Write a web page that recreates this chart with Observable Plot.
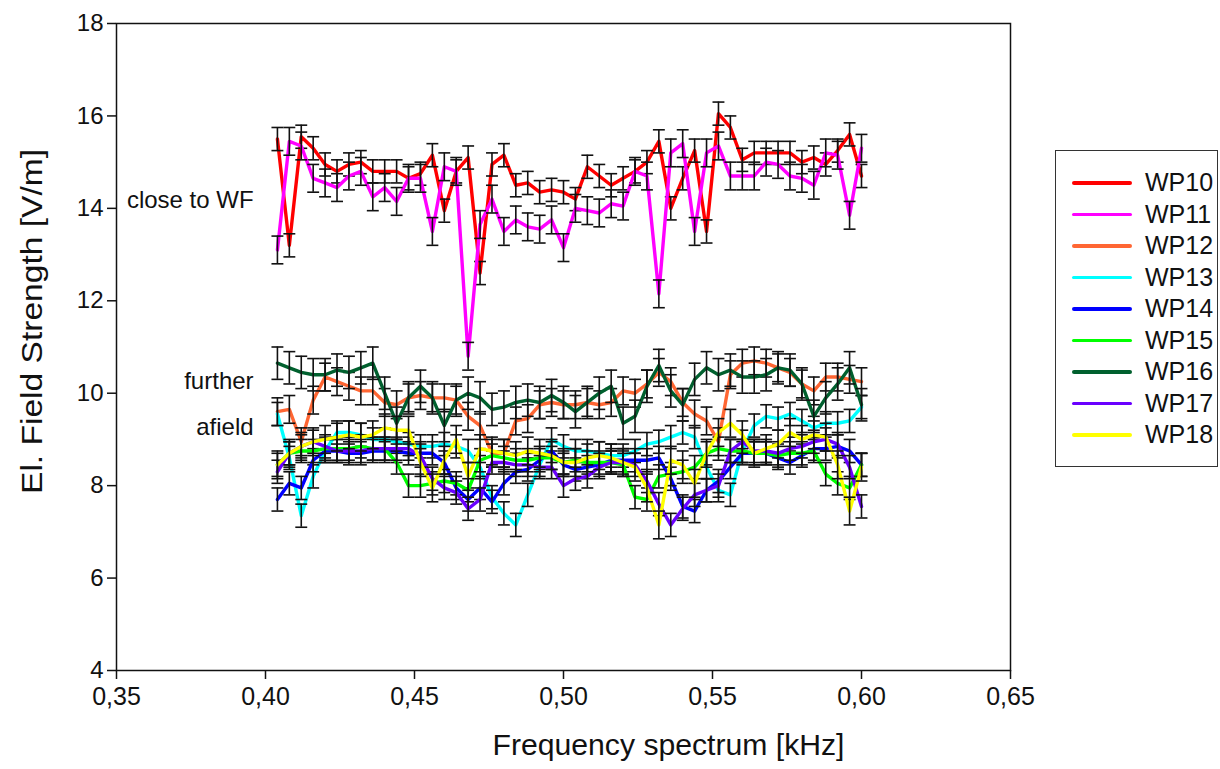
<!DOCTYPE html>
<html><head><meta charset="utf-8">
<script src="https://cdn.jsdelivr.net/npm/d3@7"></script>
<script src="https://cdn.jsdelivr.net/npm/@observablehq/plot@0.6"></script>
<style>
body{margin:0;background:#fff;overflow:hidden;font-family:"Liberation Sans",Arial,sans-serif}
#wrap{position:relative;width:1220px;height:769px}
#chart{position:absolute;left:0;top:0}
#legend{position:absolute;left:1055px;top:150px;width:163px;height:317px;border:1.5px solid #333;box-sizing:border-box;padding-top:16px}
.row{display:flex;align-items:center;height:31.5px}
.sw{width:60px;height:3.5px;margin-left:16px;margin-right:13px;border-radius:2px}
.lab{font-size:25px;color:#111}
</style></head>
<body><div id="wrap"><div id="chart"></div><div id="legend"></div></div>
<script>
const freq = [0.404,0.408,0.412,0.416,0.420,0.424,0.428,0.432,0.436,0.440,0.444,0.448,0.452,0.456,0.460,0.464,0.468,0.472,0.476,0.480,0.484,0.488,0.492,0.496,0.500,0.504,0.508,0.512,0.516,0.520,0.524,0.528,0.532,0.536,0.540,0.544,0.548,0.552,0.556,0.560,0.564,0.568,0.572,0.576,0.580,0.584,0.588,0.592,0.596,0.600];

const wp10 = [15.5,13.2,15.55,15.3,14.95,14.8,14.95,15.0,14.8,14.8,14.8,14.65,14.75,15.15,13.95,14.8,15.1,12.6,14.95,15.15,14.5,14.55,14.35,14.4,14.35,14.2,14.9,14.7,14.5,14.65,14.8,15.0,15.45,14.0,14.65,15.25,13.5,16.05,15.75,15.05,15.2,15.2,15.2,15.2,15.0,15.1,14.95,15.25,15.6,14.7];
const wp11 = [13.1,15.45,15.35,14.65,14.55,14.45,14.7,14.8,14.25,14.45,14.15,14.65,14.65,13.5,14.9,14.8,10.8,13.65,14.2,13.5,13.75,13.6,13.55,13.75,13.15,14.0,13.95,13.9,14.1,14.05,14.8,14.7,12.15,15.2,15.4,13.5,15.2,15.35,14.7,14.7,14.7,15.0,14.95,14.7,14.65,14.5,15.2,15.15,13.85,15.3];
const wp12 = [9.6,9.65,8.95,9.85,10.35,10.25,10.15,10.05,10.05,9.8,9.75,9.9,9.95,9.9,9.9,9.85,9.5,9.3,8.7,8.7,9.4,9.45,9.75,9.8,9.75,9.75,9.8,9.75,9.8,10.05,10.0,10.2,10.45,10.25,9.8,9.55,9.4,8.95,10.4,10.65,10.7,10.65,10.55,10.45,10.2,10.05,10.35,10.35,10.3,10.25];
const wp13 = [9.55,8.6,7.35,8.2,8.75,9.15,9.15,9.1,9.0,9.0,8.95,8.9,8.85,8.85,8.9,8.85,8.75,8.4,7.75,7.4,7.15,7.8,8.45,9.0,8.85,8.75,8.75,8.7,8.65,8.65,8.75,8.9,8.95,9.05,9.15,9.05,8.4,7.9,7.8,8.75,9.3,9.5,9.45,9.55,9.4,9.25,9.35,9.35,9.4,9.7];
const wp14 = [7.7,8.05,7.95,8.55,8.75,8.75,8.7,8.7,8.75,8.75,8.75,8.7,8.7,8.7,8.5,7.95,7.7,7.95,7.65,8.05,8.3,8.35,8.55,8.75,8.45,8.35,8.4,8.45,8.55,8.55,8.55,8.55,8.6,8.15,7.55,7.45,7.9,8.1,8.4,8.7,8.7,8.7,8.6,8.5,8.65,8.8,8.8,8.85,8.75,8.45];
const wp15 = [8.45,8.7,8.75,8.75,8.8,8.8,8.8,8.85,8.8,8.8,8.5,8.0,8.0,8.05,8.1,8.05,7.9,8.55,8.65,8.6,8.55,8.55,8.6,8.6,8.5,8.55,8.5,8.5,8.5,8.45,7.75,7.7,8.2,8.25,8.3,8.4,8.7,8.8,8.75,8.75,8.7,8.7,8.65,8.7,8.7,8.75,8.25,8.05,7.95,8.45];
const wp16 = [10.65,10.55,10.45,10.4,10.4,10.5,10.45,10.55,10.65,10.0,9.35,9.9,10.15,9.9,9.3,9.85,10.0,9.9,9.65,9.7,9.8,9.85,9.8,9.95,9.8,9.6,9.8,10.0,10.15,9.35,9.5,10.15,10.6,10.05,9.75,10.3,10.55,10.4,10.5,10.35,10.35,10.4,10.55,10.5,10.2,9.5,9.9,10.2,10.55,9.75];
const wp17 = [8.3,8.7,8.85,8.95,8.85,8.75,8.75,8.75,8.8,8.8,8.8,8.8,8.65,8.15,7.95,7.85,7.5,7.7,8.5,8.5,8.45,8.45,8.4,8.4,8.0,8.15,8.2,8.4,8.5,8.5,8.45,8.1,7.6,7.15,7.5,7.8,7.9,8.0,8.75,8.95,8.75,8.75,8.7,8.8,8.85,8.95,9.0,8.9,8.4,7.55];
const wp18 = [8.45,8.7,8.85,8.95,9.0,9.05,9.1,9.05,9.1,9.25,9.2,9.2,8.5,7.95,8.55,9.0,8.2,8.8,8.75,8.7,8.65,8.75,8.7,8.65,8.5,8.5,8.6,8.65,8.6,8.5,8.4,7.95,7.15,8.55,8.45,8.05,8.7,9.15,9.35,9.1,8.7,8.8,8.9,9.15,9.0,9.1,9.05,8.45,7.45,8.4];

const seriesNames = ["WP10","WP11","WP12","WP13","WP14","WP15","WP16","WP17","WP18"];
const seriesValues = [wp10,wp11,wp12,wp13,wp14,wp15,wp16,wp17,wp18];
const seriesColors = ["#ff0000","#ff00ff","#ff6633","#00ffff","#0000ff","#00ff00","#00602e","#6a00ff","#ffff00"];
const seriesErrors = [0.25,0.3,0.3,0.25,0.25,0.25,0.35,0.25,0.3];

const xTicks = [0.35,0.40,0.45,0.50,0.55,0.60,0.65];
const yTicks = [4,6,8,10,12,14,16,18];
const noteLabels = ["close to WF","further","afield"];
const noteX = [0.396,0.396,0.396];
const noteY = [14.17,10.25,9.26];

const xTitle = "Frequency spectrum [kHz]";
const yTitle = "El. Field Strength [V/m]";

const notes = noteLabels.map((t,i)=>({t, x: noteX[i], y: noteY[i]}));
const cap = 0.002;

const seriesMarks = seriesNames.flatMap((name, s) => {
  const rows = freq.map((f,i)=>({x:f, y:seriesValues[s][i], e:seriesErrors[s]}));
  return [
    Plot.line(rows, {x:"x", y:"y", stroke: seriesColors[s], strokeWidth: 3.4}),
    Plot.ruleX(rows, {x:"x", y1: d=>d.y-d.e, y2: d=>d.y+d.e, stroke:"#111", strokeWidth:1.6}),
    Plot.link(rows, {x1: d=>d.x-cap, x2: d=>d.x+cap, y1: d=>d.y+d.e, y2: d=>d.y+d.e, stroke:"#111", strokeWidth:1.6}),
    Plot.link(rows, {x1: d=>d.x-cap, x2: d=>d.x+cap, y1: d=>d.y-d.e, y2: d=>d.y-d.e, stroke:"#111", strokeWidth:1.6})
  ];
});

const chart = Plot.plot({
  width: 1040, height: 769,
  marginLeft: 116, marginRight: 30, marginTop: 23, marginBottom: 99,
  style: {fontFamily: '"Liberation Sans", Arial, sans-serif', color: "#111", background: "#fff"},
  x: {domain: [0.35, 0.65]},
  y: {domain: [4, 18]},
  marks: [
    Plot.axisX(xTicks, {tickSize: 9, tickPadding: 8, fontSize: 25, label: null, tickFormat: d => d.toFixed(2).replace(".", ","), strokeWidth: 1.5}),
    Plot.axisY(yTicks, {tickSize: 9, tickPadding: 4, fontSize: 24, label: null, strokeWidth: 1.5}),
    ...seriesMarks,
    Plot.frame({stroke: "#111", strokeWidth: 1.5}),
    Plot.text(notes, {x:"x", y:"y", text:"t", textAnchor:"end", fontSize: 24, fill:"#111"}),
    Plot.text([xTitle], {frameAnchor:"bottom", text: d=>d, dx: 105, dy: 84, fontSize: 29, fill:"#111"}),
    Plot.text([yTitle], {frameAnchor:"left", text: d=>d, rotate: -90, textAnchor: "start", dx: -84, dy: 147, fontSize: 29, fill:"#111"})
  ]
});
document.getElementById("chart").appendChild(chart);
d3.select(chart).selectAll("text").filter(function(){return this.textContent===xTitle;})
  .attr("textLength", 352).attr("lengthAdjust","spacingAndGlyphs");
d3.select(chart).selectAll("text").filter(function(){return this.textContent===yTitle;})
  .attr("textLength", 345).attr("lengthAdjust","spacingAndGlyphs");

const legend = document.getElementById("legend");
seriesNames.forEach((n,i)=>{
  const r = document.createElement("div"); r.className="row";
  const sw = document.createElement("div"); sw.className="sw"; sw.style.background = seriesColors[i];
  const l = document.createElement("span"); l.className="lab"; l.textContent = n;
  r.appendChild(sw); r.appendChild(l); legend.appendChild(r);
});
</script></body></html>
